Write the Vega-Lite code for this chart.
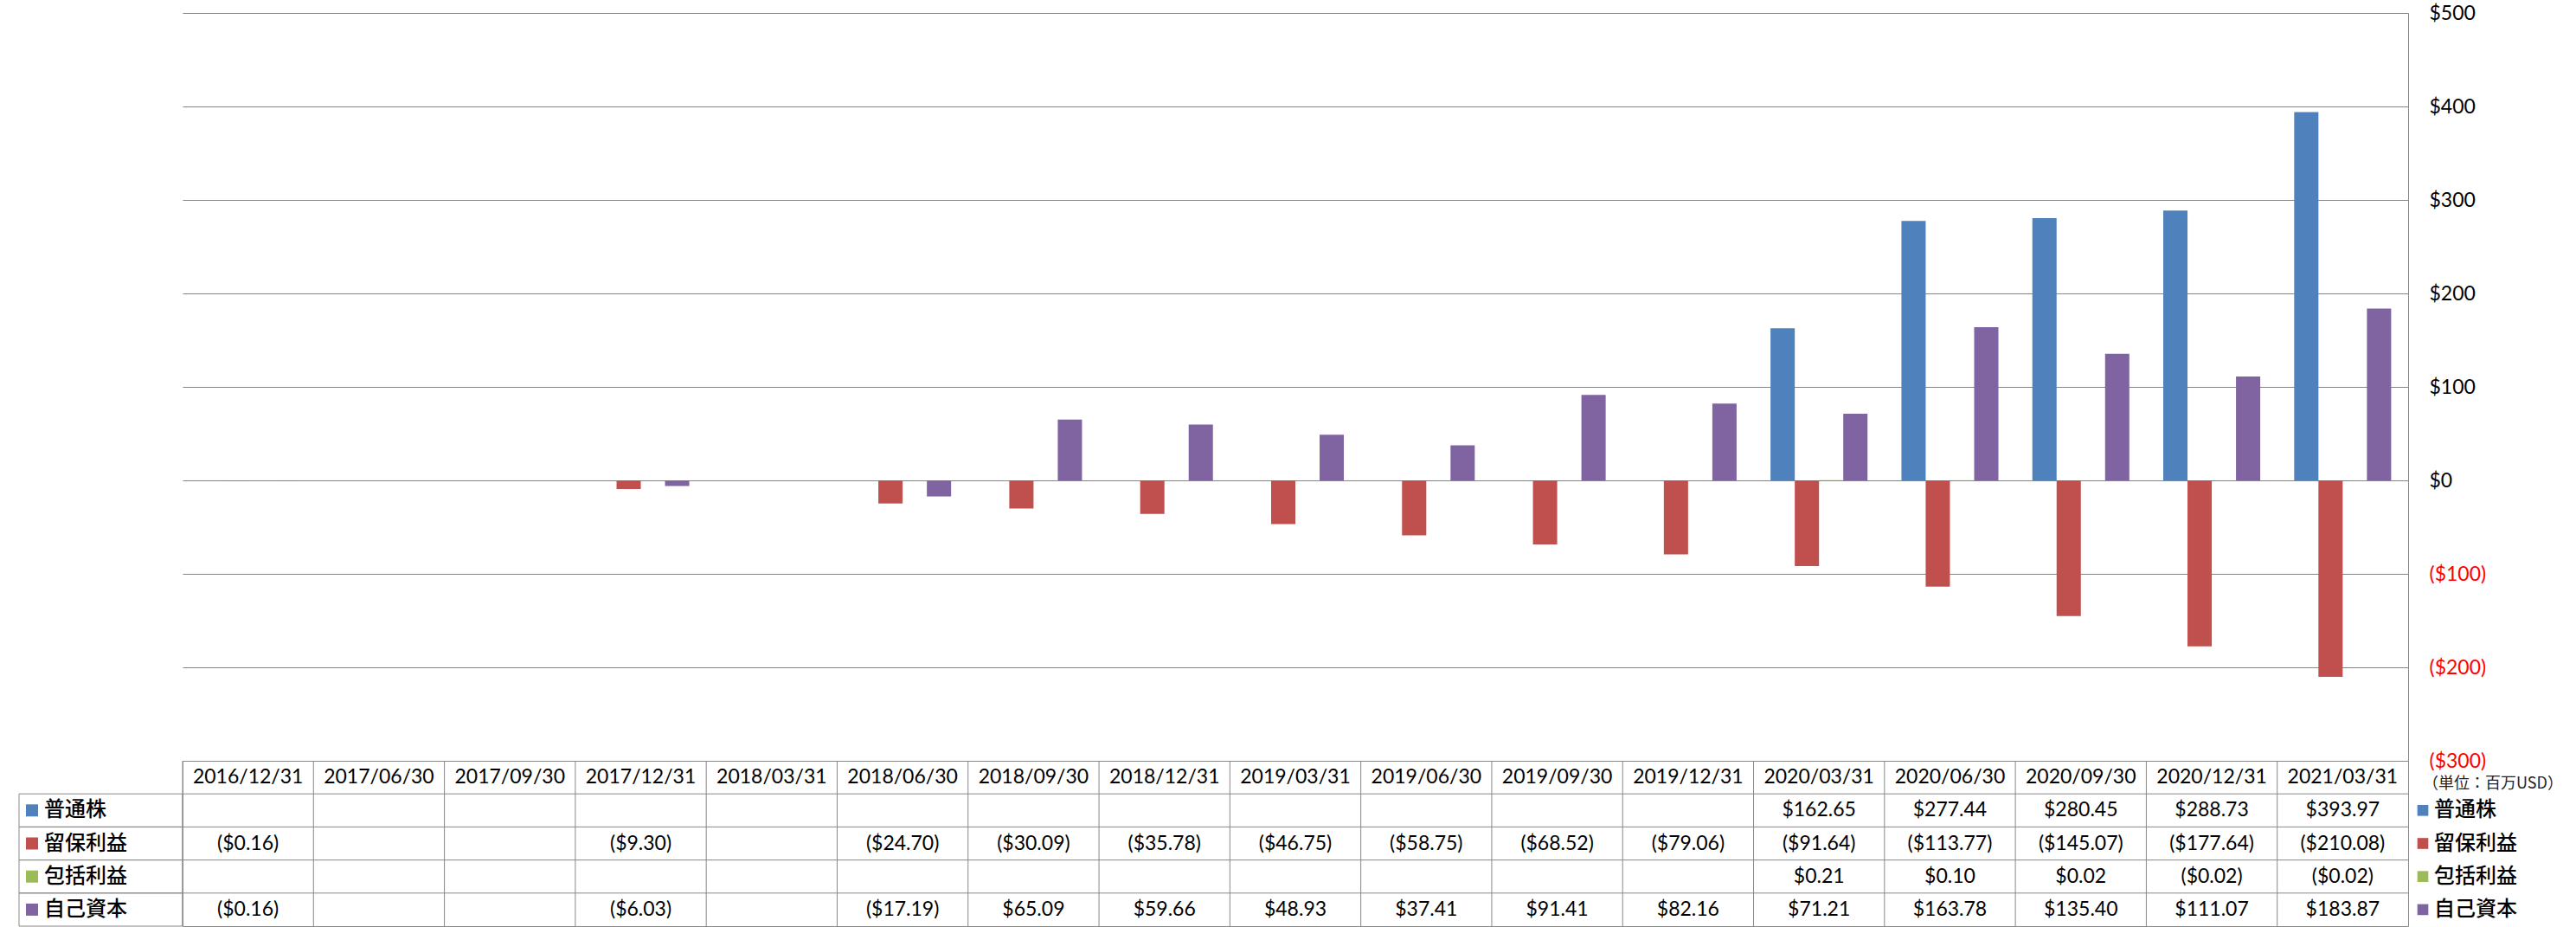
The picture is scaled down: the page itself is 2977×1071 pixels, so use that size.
{
  "$schema": "https://vega.github.io/schema/vega-lite/v6.json",
  "background": "white",
  "padding": {"left": 21, "top": 4, "right": 0, "bottom": 0},
  "spacing": 0,
  "bounds": "flush",
  "columns": 3,
  "config": {
    "view": {"stroke": null},
    "text": {"font": "Lato"},
    "axis": {"labelFont": "Lato"}
  },
  "datasets": {
    "dates": [
      {"date": "2016/12/31"}, {"date": "2017/06/30"}, {"date": "2017/09/30"}, {"date": "2017/12/31"},
      {"date": "2018/03/31"}, {"date": "2018/06/30"}, {"date": "2018/09/30"}, {"date": "2018/12/31"},
      {"date": "2019/03/31"}, {"date": "2019/06/30"}, {"date": "2019/09/30"}, {"date": "2019/12/31"},
      {"date": "2020/03/31"}, {"date": "2020/06/30"}, {"date": "2020/09/30"}, {"date": "2020/12/31"},
      {"date": "2021/03/31"}
    ],
    "series": [
      {"series": "普通株"}, {"series": "留保利益"}, {"series": "包括利益"}, {"series": "自己資本"}
    ],
    "vals": [
      {"date": "2016/12/31", "series": "留保利益", "value": -0.16},
      {"date": "2016/12/31", "series": "自己資本", "value": -0.16},
      {"date": "2017/12/31", "series": "留保利益", "value": -9.30},
      {"date": "2017/12/31", "series": "自己資本", "value": -6.03},
      {"date": "2018/06/30", "series": "留保利益", "value": -24.70},
      {"date": "2018/06/30", "series": "自己資本", "value": -17.19},
      {"date": "2018/09/30", "series": "留保利益", "value": -30.09},
      {"date": "2018/09/30", "series": "自己資本", "value": 65.09},
      {"date": "2018/12/31", "series": "留保利益", "value": -35.78},
      {"date": "2018/12/31", "series": "自己資本", "value": 59.66},
      {"date": "2019/03/31", "series": "留保利益", "value": -46.75},
      {"date": "2019/03/31", "series": "自己資本", "value": 48.93},
      {"date": "2019/06/30", "series": "留保利益", "value": -58.75},
      {"date": "2019/06/30", "series": "自己資本", "value": 37.41},
      {"date": "2019/09/30", "series": "留保利益", "value": -68.52},
      {"date": "2019/09/30", "series": "自己資本", "value": 91.41},
      {"date": "2019/12/31", "series": "留保利益", "value": -79.06},
      {"date": "2019/12/31", "series": "自己資本", "value": 82.16},
      {"date": "2020/03/31", "series": "普通株", "value": 162.65},
      {"date": "2020/03/31", "series": "留保利益", "value": -91.64},
      {"date": "2020/03/31", "series": "包括利益", "value": 0.21},
      {"date": "2020/03/31", "series": "自己資本", "value": 71.21},
      {"date": "2020/06/30", "series": "普通株", "value": 277.44},
      {"date": "2020/06/30", "series": "留保利益", "value": -113.77},
      {"date": "2020/06/30", "series": "包括利益", "value": 0.10},
      {"date": "2020/06/30", "series": "自己資本", "value": 163.78},
      {"date": "2020/09/30", "series": "普通株", "value": 280.45},
      {"date": "2020/09/30", "series": "留保利益", "value": -145.07},
      {"date": "2020/09/30", "series": "包括利益", "value": 0.02},
      {"date": "2020/09/30", "series": "自己資本", "value": 135.40},
      {"date": "2020/12/31", "series": "普通株", "value": 288.73},
      {"date": "2020/12/31", "series": "留保利益", "value": -177.64},
      {"date": "2020/12/31", "series": "包括利益", "value": -0.02},
      {"date": "2020/12/31", "series": "自己資本", "value": 111.07},
      {"date": "2021/03/31", "series": "普通株", "value": 393.97},
      {"date": "2021/03/31", "series": "留保利益", "value": -210.08},
      {"date": "2021/03/31", "series": "包括利益", "value": -0.02},
      {"date": "2021/03/31", "series": "自己資本", "value": 183.87}
    ]
  },
  "concat": [
    {
      "width": 189,
      "height": 864,
      "data": {"values": [{"a": 1}]},
      "mark": {"type": "text"},
      "encoding": {"text": {"value": ""}}
    },
    {
      "width": 2572,
      "height": 864,
      "data": {"name": "vals"},
      "mark": {"type": "bar"},
      "encoding": {
        "x": {
          "field": "date", "type": "nominal",
          "scale": {
            "domain": ["2016/12/31","2017/06/30","2017/09/30","2017/12/31","2018/03/31","2018/06/30","2018/09/30","2018/12/31","2019/03/31","2019/06/30","2019/09/30","2019/12/31","2020/03/31","2020/06/30","2020/09/30","2020/12/31","2021/03/31"],
            "paddingInner": 0, "paddingOuter": 0
          },
          "axis": null
        },
        "xOffset": {
          "field": "series", "type": "nominal",
          "scale": {"domain": ["普通株","留保利益","包括利益","自己資本"], "paddingInner": 0, "paddingOuter": 0.7}
        },
        "y": {
          "field": "value", "type": "quantitative",
          "scale": {"domain": [-300, 500], "nice": false},
          "axis": {
            "orient": "right",
            "title": null,
            "values": [-300, -200, -100, 0, 100, 200, 300, 400, 500],
            "format": "($,.0f",
            "grid": true,
            "gridColor": "#868686",
            "gridWidth": 1,
            "domain": true,
            "domainColor": "#868686",
            "domainWidth": 1,
            "ticks": false,
            "labelPadding": 24,
            "labelAlign": "left",
            "labelBaseline": "middle",
            "labelFontSize": 23,
            "labelFont": "Lato",
            "labelColor": {"condition": {"test": "datum.value < 0", "value": "#FF0000"}, "value": "#000000"}
          }
        },
        "color": {
          "field": "series", "type": "nominal",
          "scale": {"domain": ["普通株","留保利益","包括利益","自己資本"], "range": ["#4F81BD","#C0504D","#9BBB59","#8064A2"]},
          "legend": null
        }
      }
    },
    {
      "width": 190,
      "height": 864,
      "data": {"values": [{"a": 1}]},
      "mark": {"type": "text"},
      "encoding": {"text": {"value": ""}}
    },
    {
      "width": 189,
      "height": 191,
      "data": {"name": "series"},
      "layer": [
        {
          "mark": {"type": "rect", "fillOpacity": 0, "stroke": "#898989", "strokeWidth": 1},
          "encoding": {
            "x": {"datum": 0, "type": "quantitative", "scale": {"domain": [0, 1], "nice": false, "zero": false}, "axis": null},
            "x2": {"datum": 1},
            "y": {"field": "series", "type": "nominal", "scale": {"domain": ["header","普通株","留保利益","包括利益","自己資本"], "paddingInner": 0, "paddingOuter": 0}, "axis": null}
          }
        },
        {
          "mark": {"type": "point", "shape": "square", "filled": true, "opacity": 1, "size": 196, "xOffset": 15},
          "encoding": {
            "x": {"datum": 0, "type": "quantitative"},
            "y": {"field": "series", "type": "nominal"},
            "color": {"field": "series", "type": "nominal", "scale": {"domain": ["普通株","留保利益","包括利益","自己資本"], "range": ["#4F81BD","#C0504D","#9BBB59","#8064A2"]}, "legend": null}
          }
        },
        {
          "mark": {"type": "text", "align": "left", "baseline": "middle", "dx": 29, "font": "Noto Sans CJK JP", "fontWeight": 500, "fontSize": 24, "color": "#000000"},
          "encoding": {
            "x": {"datum": 0, "type": "quantitative"},
            "y": {"field": "series", "type": "nominal"},
            "text": {"field": "series"}
          }
        }
      ]
    },
    {
      "width": 2572,
      "height": 191,
      "view": {"stroke": "#898989", "strokeWidth": 1},
      "layer": [
        {
          "data": {"name": "dates"},
          "mark": {"type": "rule", "color": "#898989", "strokeWidth": 1},
          "encoding": {
            "x": {
              "field": "date", "type": "nominal", "bandPosition": 0,
              "scale": {
                "domain": ["2016/12/31","2017/06/30","2017/09/30","2017/12/31","2018/03/31","2018/06/30","2018/09/30","2018/12/31","2019/03/31","2019/06/30","2019/09/30","2019/12/31","2020/03/31","2020/06/30","2020/09/30","2020/12/31","2021/03/31"],
                "paddingInner": 0, "paddingOuter": 0
              },
              "axis": null
            }
          }
        },
        {
          "data": {"name": "series"},
          "mark": {"type": "rule", "color": "#898989", "strokeWidth": 1},
          "encoding": {
            "y": {
              "field": "series", "type": "nominal", "bandPosition": 0,
              "scale": {"domain": ["header","普通株","留保利益","包括利益","自己資本"], "paddingInner": 0, "paddingOuter": 0},
              "axis": null
            }
          }
        },
        {
          "data": {"name": "dates"},
          "mark": {"type": "text", "baseline": "middle", "align": "center", "font": "Lato", "fontSize": 23, "color": "#000000"},
          "encoding": {
            "x": {"field": "date", "type": "nominal"},
            "y": {"datum": "header", "type": "nominal"},
            "text": {"field": "date"}
          }
        },
        {
          "data": {"name": "vals"},
          "mark": {"type": "text", "baseline": "middle", "align": "center", "font": "Lato", "fontSize": 23, "color": "#000000"},
          "encoding": {
            "x": {"field": "date", "type": "nominal"},
            "y": {"field": "series", "type": "nominal"},
            "text": {"field": "value", "type": "quantitative", "format": "($,.2f"}
          }
        }
      ]
    },
    {
      "width": 190,
      "height": 191,
      "layer": [
        {
          "data": {"name": "series"},
          "mark": {"type": "point", "shape": "square", "filled": true, "opacity": 1, "size": 160, "xOffset": 17},
          "encoding": {
            "x": {"datum": 0, "type": "quantitative", "scale": {"domain": [0, 1], "nice": false, "zero": false}, "axis": null},
            "y": {"field": "series", "type": "nominal", "scale": {"domain": ["header","普通株","留保利益","包括利益","自己資本"], "paddingInner": 0, "paddingOuter": 0}, "axis": null},
            "color": {"field": "series", "type": "nominal", "scale": {"domain": ["普通株","留保利益","包括利益","自己資本"], "range": ["#4F81BD","#C0504D","#9BBB59","#8064A2"]}, "legend": null}
          }
        },
        {
          "data": {"name": "series"},
          "mark": {"type": "text", "align": "left", "baseline": "middle", "dx": 30, "font": "Noto Sans CJK JP", "fontWeight": 500, "fontSize": 24, "color": "#000000"},
          "encoding": {
            "x": {"datum": 0, "type": "quantitative"},
            "y": {"field": "series", "type": "nominal"},
            "text": {"field": "series"}
          }
        },
        {
          "data": {"values": [{"note": "（単位：百万USD）"}]},
          "mark": {"type": "text", "align": "left", "baseline": "middle", "dx": 17, "dy": 8, "font": "Noto Sans CJK JP", "fontSize": 18, "color": "#222222"},
          "encoding": {
            "x": {"datum": 0, "type": "quantitative"},
            "y": {"datum": "header", "type": "nominal"},
            "text": {"field": "note"}
          }
        }
      ]
    }
  ]
}
